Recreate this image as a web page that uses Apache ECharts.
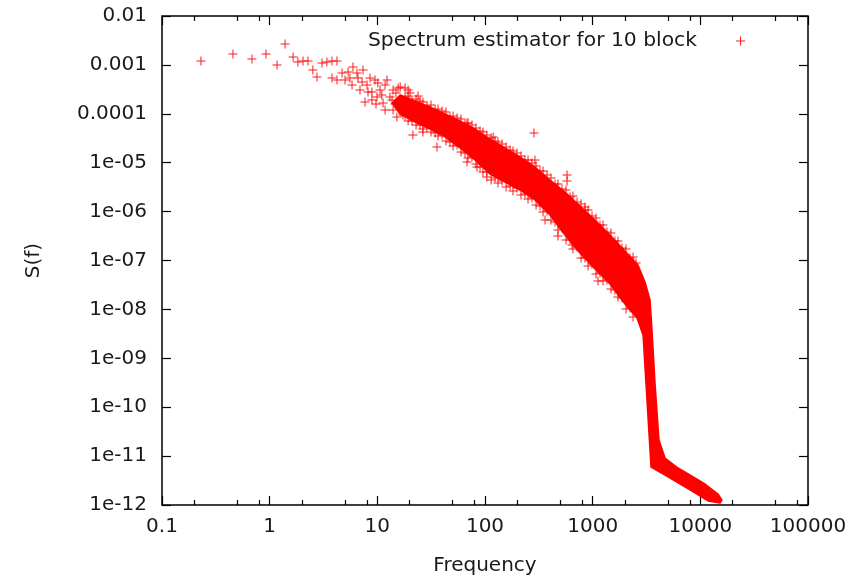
<!DOCTYPE html>
<html>
<head>
<meta charset="utf-8">
<script src="https://cdn.jsdelivr.net/npm/echarts@6/dist/echarts.min.js"></script>
<style>html,body{margin:0;padding:0;background:#fff}#c{width:856px;height:583px}</style>
</head>
<body>
<div id="c"></div>
<script>
// ---- axis ticks ----
const xTickValues = [0.1, 1, 10, 100, 1000, 10000, 100000];
const xTickLabels = ['0.1', '1', '10', '100', '1000', '10000', '100000'];
const xMinorTickValues = [0.2, 0.5, 0.8, 2, 5, 8, 20, 50, 80, 200, 500, 800, 2000, 5000, 8000, 20000, 50000, 80000];
const yTickValues = [1e-2, 1e-3, 1e-4, 1e-5, 1e-6, 1e-7, 1e-8, 1e-9, 1e-10, 1e-11, 1e-12];
const yTickLabels = ['0.01', '0.001', '0.0001', '1e-05', '1e-06', '1e-07', '1e-08', '1e-09', '1e-10', '1e-11', '1e-12'];

const seriesName = 'Spectrum estimator for 10 block';

// ---- individually visible points (frequency, S(f)) ----
const looseFreq = [0.230, 0.456, 0.685, 0.925, 1.17, 1.39, 1.65, 1.83, 2.04, 2.27, 2.52, 2.75, 3.06, 3.40, 3.79, 4.22,
  3.79, 4.22, 4.70, 5.01, 5.57, 5.94, 6.47, 7.21, 8.02, 7.68, 8.91, 9.93, 10.1, 10.6, 14.0, 15.6, 16.3, 14.0, 15.2, 17.3,
  21.4, 26.5, 35.8, 68.1, 68.1, 84.3, 104, 119, 285, 291, 578, 578, 849, 1120, 476, 643, 361,
  8.55, 11.8, 13.1, 11.3, 6.90, 8.91, 19.3, 23.9,
  5.35, 5.82, 6.61, 7.36, 8.19, 9.51, 11.0, 12.3, 13.7, 14.9, 16.9, 18.1, 20.1, 11.8, 9.72, 14.6, 21.0, 23.9, 28.3];
const looseSpec = [1.20e-3, 1.67e-3, 1.32e-3, 1.67e-3, 9.95e-4, 2.67e-3, 1.45e-3, 1.15e-3, 1.20e-3, 1.20e-3, 7.87e-4, 5.66e-4, 1.09e-3, 1.15e-3, 1.20e-3, 1.20e-3,
  5.40e-4, 4.91e-4, 6.82e-4, 4.91e-4, 5.40e-4, 9.06e-4, 6.82e-4, 4.47e-4, 3.88e-4, 1.74e-4, 2.79e-4, 2.21e-4, 4.27e-4, 3.07e-4, 3.07e-4, 3.37e-4, 3.53e-4, 1.20e-4, 8.61e-5, 9.45e-5,
  3.68e-5, 4.24e-5, 2.09e-5, 1.03e-5, 6.49e-5, 8.17e-6, 5.10e-6, 3.36e-5, 4.05e-5, 1.14e-5, 5.60e-6, 4.22e-6, 1.24e-6, 3.81e-8, 3.17e-7, 2.07e-7, 6.73e-7,
  5.40e-4, 3.88e-4, 2.21e-4, 1.66e-4, 3.07e-4, 1.91e-4, 3.07e-4, 2.31e-4,
  7.16e-4, 3.88e-4, 5.40e-4, 7.87e-4, 2.79e-4, 4.91e-4, 2.42e-4, 4.91e-4, 1.91e-4, 2.66e-4, 1.51e-4, 3.37e-4, 2.66e-4, 1.20e-4, 1.58e-4, 1.58e-4, 1.20e-4, 9.45e-5, 1.09e-4];

// points on the upper rim of the dense band (inner and outer rows)
const upperFreq = [18.1, 21.0, 24.9, 28.9, 34.4, 39.9, 47.3, 55.0, 65.2, 75.7, 89.9, 104, 124, 144, 171, 198, 235, 273, 324, 377, 447, 519, 617, 716, 849, 986, 1170, 1358, 1611, 1871, 2223, 2529,
  19.3, 22.9, 26.5, 31.5, 36.6, 43.4, 50.5, 59.8, 69.5, 82.4, 95.7, 114, 132, 157, 182, 216, 251, 298, 346, 410, 476, 565, 656, 780, 906, 1074, 1247, 1479, 1718, 2042, 2371];
const upperSpec = [2.21e-4, 1.83e-4, 1.83e-4, 1.44e-4, 1.20e-4, 1.14e-4, 8.61e-5, 8.20e-5, 6.18e-5, 5.90e-5, 4.45e-5, 3.68e-5, 2.78e-5, 2.41e-5, 1.82e-5, 1.58e-5, 1.14e-5, 9.86e-6, 6.76e-6, 5.60e-6, 3.66e-6, 2.90e-6, 1.99e-6, 1.57e-6, 1.08e-6, 8.13e-7, 5.32e-7, 3.83e-7, 2.51e-7, 1.80e-7, 1.12e-7, 8.89e-8,
  2.31e-4, 2.01e-4, 1.74e-4, 1.51e-4, 1.25e-4, 1.09e-4, 9.02e-5, 7.83e-5, 6.49e-5, 5.13e-5, 4.25e-5, 3.20e-5, 2.65e-5, 2.09e-5, 1.73e-5, 1.37e-5, 1.14e-5, 8.55e-6, 6.76e-6, 4.86e-6, 3.66e-6, 2.77e-6, 2.08e-6, 1.43e-6, 1.08e-6, 7.40e-7, 5.32e-7, 3.65e-7, 2.51e-7, 1.72e-7, 1.18e-7];

// points on the lower rim of the dense band (inner and outer rows)
const lowerFreq = [18.1, 21.0, 24.9, 28.9, 34.4, 39.9, 47.3, 55.0, 65.2, 75.7, 89.9, 104, 124, 144, 171, 198, 235, 273, 324, 377, 447, 519, 617, 716, 849, 986, 1170, 1358, 1611, 1871, 2223,
  19.3, 22.9, 26.5, 31.5, 36.6, 43.4, 50.5, 59.8, 69.5, 82.4, 95.7, 114, 132, 157, 182, 216, 251, 298, 346, 410, 476, 565, 656, 780, 906, 1074, 1247, 1479, 1718, 2042, 2371];
const lowerSpec = [9.02e-5, 7.13e-5, 5.90e-5, 5.37e-5, 4.05e-5, 3.68e-5, 2.65e-5, 2.30e-5, 1.58e-5, 1.31e-5, 8.17e-6, 6.46e-6, 4.86e-6, 4.23e-6, 3.34e-6, 3.04e-6, 2.29e-6, 1.90e-6, 1.30e-6, 1.03e-6, 6.12e-7, 4.62e-7, 2.62e-7, 1.89e-7, 1.12e-7, 8.48e-8, 5.55e-8, 3.99e-8, 2.49e-8, 1.71e-8, 1.07e-8,
  7.13e-5, 5.90e-5, 4.89e-5, 4.25e-5, 3.52e-5, 2.78e-5, 2.19e-5, 1.66e-5, 1.25e-5, 9.40e-6, 6.46e-6, 4.43e-6, 3.85e-6, 3.18e-6, 2.64e-6, 2.18e-6, 1.81e-6, 1.37e-6, 9.82e-7, 6.73e-7, 4.21e-7, 2.62e-7, 1.72e-7, 1.12e-7, 7.71e-8, 5.30e-8, 3.81e-8, 2.61e-8, 1.79e-8, 1.02e-8, 7.00e-9];

// outline of the saturated region where the markers overlap completely
const bandFreq = [13.7, 16.3, 22.4, 30.8, 42.5, 58.6, 80.7, 111, 153, 211, 291, 402, 553, 762, 1052, 1449, 1995, 2636, 3062, 3412, 3556, 3793, 4130, 4698, 6209, 11040, 14590, 15890,
  15240, 11780, 8017, 4698, 3483, 3334, 3126, 2938, 2582, 1995, 1449, 1052, 762, 553, 402, 291, 211, 153, 111, 80.7, 58.6, 42.5, 30.8, 22.4, 16.3];
const bandSpec = [1.66e-4, 2.42e-4, 1.83e-4, 1.38e-4, 9.9e-5, 7.13e-5, 4.89e-5, 3.05e-5, 2.00e-5, 1.31e-5, 8.17e-6, 4.43e-6, 2.52e-6, 1.30e-6, 6.73e-7, 3.32e-7, 1.56e-7, 8.09e-8, 3.63e-8, 1.56e-8, 3.79e-9, 3.13e-10, 2.13e-11, 9.14e-12, 5.71e-12, 2.69e-12, 1.68e-12, 1.26e-12,
  1.10e-12, 1.21e-12, 2.03e-12, 4.10e-12, 5.98e-12, 2.97e-11, 3.13e-10, 2.99e-9, 6.67e-9, 1.29e-8, 3.30e-8, 6.70e-8, 1.42e-7, 3.32e-7, 8.51e-7, 1.73e-6, 2.77e-6, 4.03e-6, 5.87e-6, 1.14e-5, 2.00e-5, 3.36e-5, 4.89e-5, 6.79e-5, 9.9e-5];

const allFreq = looseFreq.concat(upperFreq, lowerFreq);
const allSpec = looseSpec.concat(upperSpec, lowerSpec);
const scatterData = allFreq.map((f, i) => [f, allSpec[i]]);

const RED = '#ff0000';
const TXT = '#1a1a1a';
const FONT = 'DejaVu Sans';
const PLUS = 'path://M4,0H5V4H9V5H5V9H4V5H0V4H4Z';

function labelFor(values, labels) {
  return function (v) {
    for (let i = 0; i < values.length; i++) {
      if (Math.abs(Math.log10(v) - Math.log10(values[i])) < 1e-6) return labels[i];
    }
    return '';
  };
}

const baseX = { type: 'log', logBase: 10, min: 0.1, max: 100000, axisLine: { show: false }, splitLine: { show: false }, minorTick: { show: false } };
const baseY = { type: 'log', logBase: 10, min: 1e-12, max: 1e-2, axisLine: { show: false }, splitLine: { show: false }, minorTick: { show: false } };

const chart = echarts.init(document.getElementById('c'), null, { renderer: 'canvas' });
chart.setOption({
  animation: false,
  backgroundColor: '#ffffff',
  textStyle: { fontFamily: FONT },
  grid: { left: 162, right: 48, top: 16, bottom: 78, show: true, borderColor: '#000', borderWidth: 1.5, backgroundColor: 'transparent' },
  legend: {
    show: true, data: [seriesName], right: 106, top: 26, align: 'right', orient: 'horizontal',
    itemWidth: 9, itemHeight: 9, icon: PLUS, selectedMode: false,
    textStyle: { fontFamily: FONT, fontSize: 20.3, color: TXT, padding: [0, 34, 0, 0] },
    itemStyle: { color: RED }
  },
  xAxis: [
    Object.assign({}, baseX, {
      position: 'bottom',
      axisTick: { show: true, inside: true, length: 9, lineStyle: { color: '#000', width: 1.2 }, customValues: xTickValues },
      axisLabel: { show: true, customValues: xTickValues, formatter: labelFor(xTickValues, xTickLabels), fontFamily: FONT, fontSize: 20, color: TXT, margin: 12 },
      name: 'Frequency', nameLocation: 'middle', nameGap: 51, nameTextStyle: { fontFamily: FONT, fontSize: 20, color: TXT }
    }),
    Object.assign({}, baseX, {
      position: 'bottom',
      axisTick: { show: true, inside: true, length: 5, lineStyle: { color: '#000', width: 1.2 }, customValues: xMinorTickValues },
      axisLabel: { show: false }
    }),
    Object.assign({}, baseX, {
      position: 'top',
      axisTick: { show: true, inside: true, length: 9, lineStyle: { color: '#000', width: 1.2 }, customValues: xTickValues },
      axisLabel: { show: false }
    }),
    Object.assign({}, baseX, {
      position: 'top',
      axisTick: { show: true, inside: true, length: 5, lineStyle: { color: '#000', width: 1.2 }, customValues: xMinorTickValues },
      axisLabel: { show: false }
    })
  ],
  yAxis: [
    Object.assign({}, baseY, {
      position: 'left',
      axisTick: { show: true, inside: true, length: 9, lineStyle: { color: '#000', width: 1.2 }, customValues: yTickValues },
      axisLabel: { show: true, customValues: yTickValues, formatter: labelFor(yTickValues, yTickLabels), fontFamily: FONT, fontSize: 20, color: TXT, margin: 15 },
      name: 'S(f)', nameLocation: 'middle', nameGap: 118, nameTextStyle: { fontFamily: FONT, fontSize: 20, color: TXT }
    }),
    Object.assign({}, baseY, {
      position: 'right',
      axisTick: { show: true, inside: true, length: 9, lineStyle: { color: '#000', width: 1.2 }, customValues: yTickValues },
      axisLabel: { show: false }
    })
  ],
  series: [
    {
      type: 'custom',
      name: 'band',
      xAxisIndex: 0, yAxisIndex: 0,
      data: [[bandFreq[0], bandSpec[0]]],
      silent: true,
      z: 1,
      renderItem: function (params, api) {
        if (params.dataIndex !== 0) return null;
        const pts = bandFreq.map((f, i) => api.coord([f, bandSpec[i]]));
        return { type: 'polygon', shape: { points: pts }, style: { fill: RED, stroke: RED, lineWidth: 1.5, lineJoin: 'round' } };
      }
    },
    {
      type: 'scatter',
      name: seriesName,
      xAxisIndex: 0, yAxisIndex: 0,
      symbol: PLUS,
      symbolSize: 9,
      itemStyle: { color: RED, opacity: 0.9 },
      z: 2,
      data: scatterData
    }
  ]
});
</script>
</body>
</html>
